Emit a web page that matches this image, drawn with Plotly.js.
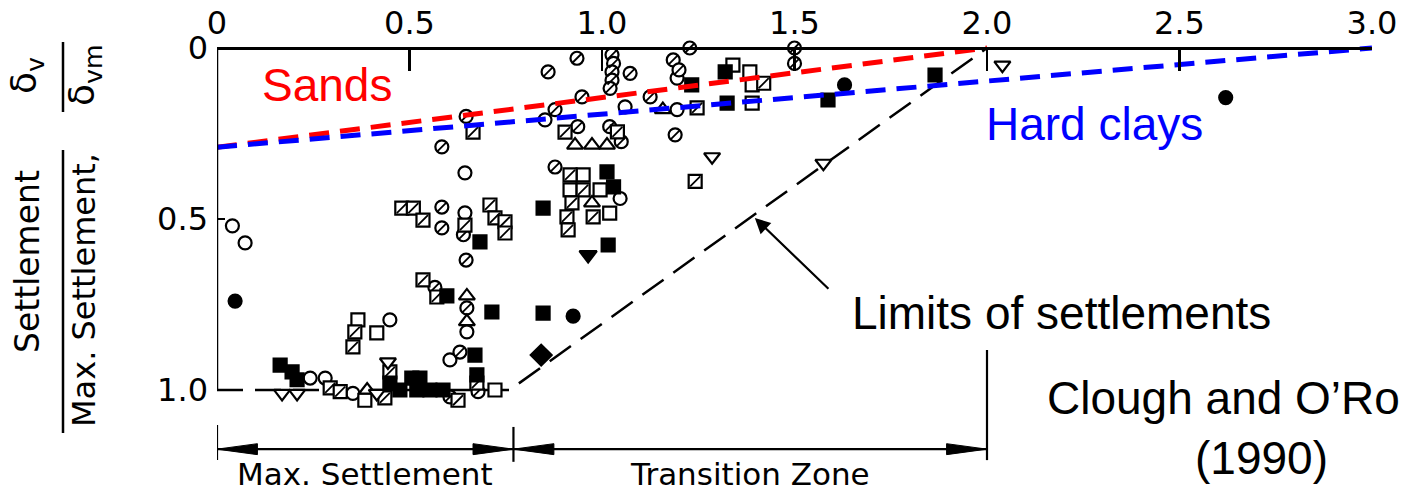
<!DOCTYPE html>
<html><head><meta charset="utf-8">
<script src="https://cdn.plot.ly/plotly-3.0.1.min.js"></script>
<style>html,body{margin:0;padding:0;background:#fff;overflow:hidden;} #chart{width:1409px;height:495px;}</style>
</head><body><div id="chart"></div>
<script>
// ---- axis ticks ----
const xTickVals = [0, 0.5, 1.0, 1.5, 2.0, 2.5, 3.0];
const xTickText = ['0', '0.5', '1.0', '1.5', '2.0', '2.5', '3.0'];
const yTickVals = [0, 0.5, 1.0];
const yTickText = ['0', '0.5', '1.0'];

// ---- observed points (x: distance / depth, y: settlement / max settlement) ----
const openCircleX = [0.04, 0.073, 0.644, 0.644, 0.852, 1.06, 1.195, 1.047, 0.449, 0.649, 0.605, 0.242, 0.281, 0.353, 1.195];
const openCircleY = [0.52, 0.57, 0.365, 0.482, 0.21, 0.172, 0.088, 0.44, 0.795, 0.83, 0.912, 0.965, 0.965, 1.01, 0.18];

const circleSlashX = [0.584, 0.647, 0.584, 0.584, 0.64, 0.647, 0.566, 0.649, 0.605, 0.678, 0.86, 0.935, 1.026, 1.03, 1.026, 1.073, 1.026, 1.021, 0.948, 0.878, 0.937, 1.02, 0.878, 1.05, 1.125, 1.185, 1.2, 1.228, 1.19, 1.5, 1.5, 0.631];
const circleSlashY = [0.289, 0.20, 0.465, 0.526, 0.546, 0.62, 0.70, 0.76, 1.02, 1.005, 0.07, 0.03, 0.02, 0.045, 0.07, 0.074, 0.094, 0.118, 0.143, 0.18, 0.23, 0.23, 0.348, 0.274, 0.143, 0.035, 0.064, 0.0, 0.254, 0.0, 0.045, 0.889];

const openSquareX = [0.951, 0.917, 0.995, 1.02, 1.34, 1.384, 1.39, 1.39, 0.366, 0.415, 0.384, 0.722];
const openSquareY = [0.371, 0.415, 0.415, 0.483, 0.05, 0.07, 0.108, 0.161, 0.795, 0.833, 1.03, 1.0];

const squareSlashX = [0.665, 0.48, 0.51, 0.535, 0.644, 0.709, 0.722, 0.748, 0.748, 0.535, 0.904, 1.04, 0.917, 0.951, 0.922, 0.909, 0.977, 0.912, 1.242, 1.247, 1.42, 0.358, 0.353, 0.571, 0.294, 0.32, 0.436, 0.449, 0.626, 0.675];
const squareSlashY = [0.246, 0.468, 0.468, 0.503, 0.518, 0.459, 0.497, 0.508, 0.541, 0.678, 0.246, 0.245, 0.371, 0.415, 0.453, 0.494, 0.494, 0.532, 0.39, 0.175, 0.103, 0.83, 0.874, 0.728, 0.994, 1.005, 1.023, 0.947, 1.03, 0.98];

const filledSquareX = [0.683, 0.847, 1.013, 1.03, 1.016, 1.32, 1.325, 1.233, 1.587, 1.865, 0.597, 0.714, 0.67, 0.847, 0.164, 0.195, 0.208, 0.449, 0.475, 0.506, 0.527, 0.519, 0.553, 0.587, 0.675];
const filledSquareY = [0.567, 0.468, 0.362, 0.406, 0.576, 0.07, 0.161, 0.108, 0.152, 0.079, 0.725, 0.772, 0.898, 0.775, 0.927, 0.947, 0.97, 0.98, 1.0, 0.965, 0.965, 1.0, 1.0, 1.0, 0.956];

const filledCircleX = [0.047, 0.925, 1.63, 2.62];
const filledCircleY = [0.74, 0.784, 0.108, 0.145];

const filledDiamondX = [0.842];
const filledDiamondY = [0.898];

const filledTriDownX = [0.964];
const filledTriDownY = [0.605];

const triUpX = [0.649, 0.649, 0.93, 0.974, 1.013, 1.158, 0.39, 0.974];
const triUpY = [0.725, 0.8, 0.284, 0.284, 0.284, 0.18, 1.0, 0.453];

const triDownX = [1.286, 1.575, 2.04, 0.169, 0.208, 0.444, 0.415];
const triDownY = [0.318, 0.337, 0.05, 1.01, 1.01, 0.918, 1.01];

// ---- envelope lines ----
const limitX = [0, 0.76, 2.0];
const limitY = [1.0, 1.0, 0];
const sandsX = [0, 2.0];
const sandsY = [0.29, 0];
const claysX = [0, 3.0];
const claysY = [0.29, 0];

// ---- zones ----
const zoneBounds = [0, 0.77, 2.0];
const zoneLabels = ['Max. Settlement', 'Transition Zone'];

// ---- layout geometry ----
const W = 1409, H = 495, ML = 217, MR = 37, MT = 42, MB = 0;
const AXIS_PX = 48;                 // pixel row of the top x axis (y = 0)
const PW = W - ML - MR, PH = H - MT - MB;
const X_MAX = 3.0;
const Y_PER_PX = 1 / 342;
const Y_TOP = -(AXIS_PX - MT) * Y_PER_PX;
const Y_BOTTOM = (H - MB - AXIS_PX) * Y_PER_PX;
const px2paperX = px => (px - ML) / PW;
const py2paperY = py => (H - MB - py) / PH;

const BLACK = '#000';
const RED = '#ff0000';
const BLUE = '#0000ff';

function pts(x, y, symbol, size, filled) {
  return {
    type: 'scatter', mode: 'markers', x: x, y: y, cliponaxis: false, hoverinfo: 'skip',
    marker: { symbol: symbol, size: size, color: filled ? BLACK : '#ffffff',
              line: { color: BLACK, width: 2.2 } }
  };
}
function slash(x, y, size) {
  return {
    type: 'scatter', mode: 'markers', x: x, y: y, cliponaxis: false, hoverinfo: 'skip',
    marker: { symbol: 'line-ne', size: size, color: BLACK, line: { color: BLACK, width: 1.8 } }
  };
}
function dline(x, y, color, width, dash) {
  return { type: 'scatter', mode: 'lines', x: x, y: y, hoverinfo: 'skip', cliponaxis: true,
           line: { color: color, width: width, dash: dash } };
}

const traces = [
  dline(limitX, limitY, BLACK, 2.5, '26px,12px'),
  pts(openCircleX, openCircleY, 'circle', 13, false),
  pts(circleSlashX, circleSlashY, 'circle', 13, false),
  slash(circleSlashX, circleSlashY, 9),
  pts(openSquareX, openSquareY, 'square', 13, false),
  pts(squareSlashX, squareSlashY, 'square', 13, false),
  slash(squareSlashX, squareSlashY, 10),
  pts(filledSquareX, filledSquareY, 'square', 13, true),
  pts(filledCircleX, filledCircleY, 'circle', 13, true),
  pts(filledDiamondX, filledDiamondY, 'diamond', 16, true),
  pts(filledTriDownX, filledTriDownY, 'triangle-down', 15, true),
  pts(triUpX, triUpY, 'triangle-up', 14, false),
  pts(triDownX, triDownY, 'triangle-down', 14, false),
  dline(sandsX, sandsY, RED, 5, '20px,11px'),
  dline(claysX, claysY, BLUE, 5, '20px,11px')
];

// ---- shapes ----
const shapes = [];
// left axis line (0 to 1.0)
shapes.push({ type: 'line', xref: 'x', yref: 'y', x0: 0, x1: 0, y0: yTickVals[0], y1: yTickVals[2],
              line: { color: BLACK, width: 2.5 } });
// zone dimension line
const ARROW_Y = 1.173;
const HEAD_L = 0.105, HEAD_H = 0.016;
shapes.push({ type: 'line', xref: 'x', yref: 'y', x0: zoneBounds[0], x1: zoneBounds[2], y0: ARROW_Y, y1: ARROW_Y,
              line: { color: BLACK, width: 2.2 } });
// bars
shapes.push({ type: 'line', xref: 'x', yref: 'y', x0: zoneBounds[0], x1: zoneBounds[0], y0: 1.102, y1: 1.205, line: { color: BLACK, width: 2.2 } });
shapes.push({ type: 'line', xref: 'x', yref: 'y', x0: zoneBounds[1], x1: zoneBounds[1], y0: 1.108, y1: 1.21, line: { color: BLACK, width: 2.2 } });
shapes.push({ type: 'line', xref: 'x', yref: 'y', x0: zoneBounds[2], x1: zoneBounds[2], y0: 0.883, y1: 1.205, line: { color: BLACK, width: 2.2 } });
function head(tip, dir) {
  const b = tip + dir * HEAD_L;
  return { type: 'path', xref: 'x', yref: 'y', fillcolor: BLACK, line: { color: BLACK, width: 1 },
           path: `M ${tip},${ARROW_Y} L ${b},${ARROW_Y - HEAD_H} L ${b},${ARROW_Y + HEAD_H} Z` };
}
shapes.push(head(zoneBounds[0], 1));
shapes.push(head(zoneBounds[1], -1));
shapes.push(head(zoneBounds[1], 1));
shapes.push(head(zoneBounds[2], -1));
// y-title fraction bars
shapes.push({ type: 'line', xref: 'paper', yref: 'paper', x0: px2paperX(63), x1: px2paperX(63),
              y0: py2paperY(150), y1: py2paperY(433), line: { color: BLACK, width: 2.5 } });
shapes.push({ type: 'line', xref: 'paper', yref: 'paper', x0: px2paperX(63), x1: px2paperX(63),
              y0: py2paperY(42), y1: py2paperY(112), line: { color: BLACK, width: 2.5 } });

// ---- annotations ----
const ann = [];
const ARIAL = 'Liberation Sans, Arial, sans-serif';
const GEO = 'DejaVu Sans, sans-serif';
ann.push({ xref: 'x', yref: 'y', x: 0.286, y: 0.108, text: 'Sands', showarrow: false,
           font: { family: ARIAL, size: 46, color: RED }, xanchor: 'center', yanchor: 'middle' });
ann.push({ xref: 'x', yref: 'y', x: 2.28, y: 0.222, text: 'Hard clays', showarrow: false,
           font: { family: ARIAL, size: 46, color: BLUE }, xanchor: 'center', yanchor: 'middle' });
ann.push({ xref: 'x', yref: 'y', x: 1.644, y: 0.775, text: 'Limits of settlements', showarrow: false,
           font: { family: ARIAL, size: 46, color: BLACK }, xanchor: 'left', yanchor: 'middle' });
ann.push({ xref: 'x', yref: 'y', x: 1.397, y: 0.497, ax: 1.592, ay: 0.708, axref: 'x', ayref: 'y',
           text: '', showarrow: true, arrowhead: 2, arrowsize: 1.4, arrowwidth: 2.2, arrowcolor: BLACK });
ann.push({ xref: 'x', yref: 'y', x: 2.15, y: 1.023, text: 'Clough and O’Ro', showarrow: false,
           font: { family: ARIAL, size: 46, color: BLACK }, xanchor: 'left', yanchor: 'middle' });
ann.push({ xref: 'x', yref: 'y', x: 2.714, y: 1.199, text: '(1990)', showarrow: false,
           font: { family: ARIAL, size: 46, color: BLACK }, xanchor: 'center', yanchor: 'middle' });
for (let i = 0; i < zoneLabels.length; i++) {
  ann.push({ xref: 'x', yref: 'y', x: (zoneBounds[i] + zoneBounds[i + 1]) / 2, y: (494 - AXIS_PX) * Y_PER_PX,
             text: zoneLabels[i], showarrow: false, font: { family: GEO, size: 31, color: BLACK },
             xanchor: 'center', yanchor: 'bottom' });
}
// y-axis title pieces (rotated)
ann.push({ xref: 'paper', yref: 'paper', x: px2paperX(27), y: py2paperY(262), text: 'Settlement', textangle: -90,
           showarrow: false, font: { family: GEO, size: 33, color: BLACK }, xanchor: 'center', yanchor: 'middle' });
ann.push({ xref: 'paper', yref: 'paper', x: px2paperX(84), y: py2paperY(290), text: 'Max. Settlement,', textangle: -90,
           showarrow: false, font: { family: GEO, size: 32, color: BLACK }, xanchor: 'center', yanchor: 'middle' });
ann.push({ xref: 'paper', yref: 'paper', x: px2paperX(26), y: py2paperY(76), text: 'δ<sub>v</sub>', textangle: -90,
           showarrow: false, font: { family: GEO, size: 36, color: BLACK }, xanchor: 'center', yanchor: 'middle' });
ann.push({ xref: 'paper', yref: 'paper', x: px2paperX(84), y: py2paperY(76), text: 'δ<sub>vm</sub>', textangle: -90,
           showarrow: false, font: { family: GEO, size: 36, color: BLACK }, xanchor: 'center', yanchor: 'middle' });

const layout = {
  width: W, height: H,
  margin: { l: ML, r: MR, t: MT, b: MB, pad: 0 },
  paper_bgcolor: '#fff', plot_bgcolor: '#fff',
  showlegend: false,
  xaxis: {
    range: [0, X_MAX], side: 'top', anchor: 'free', position: py2paperY(AXIS_PX),
    showgrid: false, zeroline: false,
    showline: true, linecolor: BLACK, linewidth: 2.5,
    tickmode: 'array', tickvals: xTickVals, ticktext: xTickText,
    ticks: 'inside', ticklen: 21, tickwidth: 2.5, tickcolor: BLACK,
    tickfont: { family: GEO, size: 32, color: BLACK }
  },
  yaxis: {
    range: [Y_BOTTOM, Y_TOP], showgrid: false, zeroline: false, showline: false,
    tickmode: 'array', tickvals: yTickVals, ticktext: yTickText,
    ticks: 'inside', ticklen: 8, tickwidth: 2.5, tickcolor: BLACK,
    tickfont: { family: GEO, size: 32, color: BLACK }, ticklabelstandoff: 8
  },
  shapes: shapes,
  annotations: ann
};

Plotly.newPlot('chart', traces, layout, { displayModeBar: false, staticPlot: true });
</script>
</body></html>
